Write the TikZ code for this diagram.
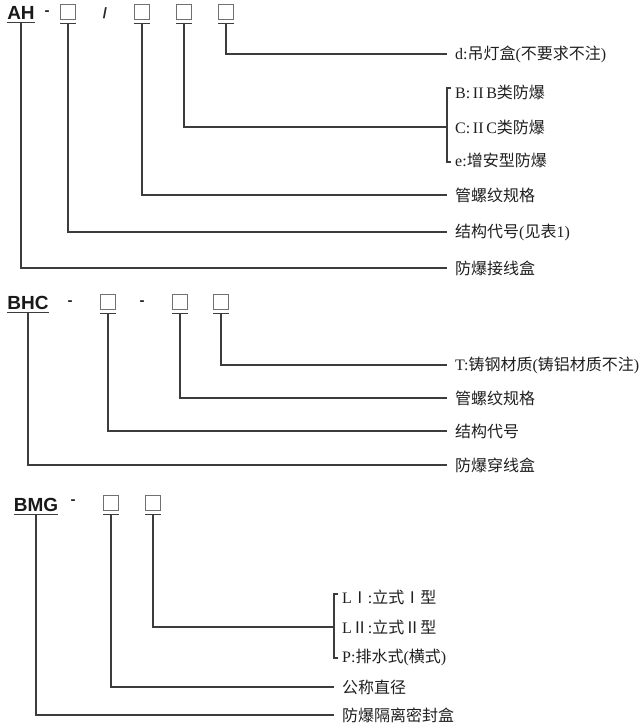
\documentclass[tikz,border=0pt]{standalone}
\usepackage{fontspec}
\setmainfont{Liberation Serif}
\newfontfamily\cjk{Noto Sans CJK SC}
\newfontfamily\hdrfont{Liberation Sans}
\usetikzlibrary{positioning}
\definecolor{leadgray}{HTML}{3C3C3C}
\definecolor{boxgray}{HTML}{707070}

\begin{document}
\begin{tikzpicture}[
    x=1pt, y=-1pt,
    % pixel grid of the drawing, y downwards
    lead/.style={draw=leadgray, line width=1.1pt},
    cell/.style={draw=boxgray, line width=0.6pt, minimum size=15pt, inner sep=0pt},
    code/.style={font=\hdrfont\bfseries\fontsize{19}{19}\selectfont, inner sep=0pt, text=black!90},
    sep/.style={font=\hdrfont\bfseries\fontsize{15}{15}\selectfont, inner sep=0pt, text=black!85},
    item/.style={anchor=west, inner xsep=8pt, inner ysep=0pt, font=\fontsize{16}{18}\selectfont, text=black!88}
]
    \useasboundingbox (0,0) rectangle (643,728);

    % AH
    \node[code] (ah) at (21,13) {AH};
    \draw[lead] ([yshift=-3pt]ah.south west) -- coordinate (ah-u) ([yshift=-3pt]ah.south east);
    \node[sep] (ah-d) at (47,13) {-};
    \node[sep] (ah-s) at (105,13) {/};
    \foreach \n/\x in {a1/68, a2/142, a3/184, a4/226} {
        \node[cell] (\n) at (\x,12) {};
        \draw[lead] ([yshift=-4pt]\n.south west) -- coordinate (\n-u) ([yshift=-4pt]\n.south east);
    }
    \node[item] (ad) at (447,54) {d:{\cjk 吊灯盒}({\cjk 不要求不注})};
    \node[item] (ab) at (447,92) {B:\,II\,B{\cjk 类防爆}};
    \node[item] (ac) at (447,127) {C:\,II\,C{\cjk 类防爆}};
    \node[item] (ae) at (447,160) {e:{\cjk 增安型防爆}};
    \node[item] (ag) at (447,195) {\cjk 管螺纹规格};
    \node[item] (as) at (447,232) {{\cjk 结构代号}({\cjk 见表}1)};
    \node[item] (ax) at (447,268) {\cjk 防爆接线盒};
    \draw[lead] (a4-u) |- (ad.west);
    \draw[lead] (a3-u) |- (ac.west);
    \draw[lead] (a2-u) |- (ag.west);
    \draw[lead] (a1-u) |- (as.west);
    \draw[lead] (ah-u) |- (ax.west);
    \draw[lead] ([xshift=4pt,yshift=4pt]ab.west) -- ([yshift=4pt]ab.west)
        -- ([yshift=-2pt]ae.west) -- ([xshift=4pt,yshift=-2pt]ae.west);

    % BHC
    \node[code] (bhc) at (28,303) {BHC};
    \draw[lead] ([yshift=-3pt]bhc.south west) -- coordinate (bhc-u) ([yshift=-3pt]bhc.south east);
    \node[sep] (bhc-d1) at (70,303) {-};
    \node[sep] (bhc-d2) at (142,303) {-};
    \foreach \n/\x in {b1/108, b2/180, b3/221} {
        \node[cell] (\n) at (\x,302) {};
        \draw[lead] ([yshift=-4pt]\n.south west) -- coordinate (\n-u) ([yshift=-4pt]\n.south east);
    }
    \node[item] (bt) at (447,365) {T:{\cjk 铸钢材质}({\cjk 铸铝材质不注})};
    \node[item] (bg) at (447,398) {\cjk 管螺纹规格};
    \node[item] (bs) at (447,431) {\cjk 结构代号};
    \node[item] (bx) at (447,465) {\cjk 防爆穿线盒};
    \draw[lead] (b3-u) |- (bt.west);
    \draw[lead] (b2-u) |- (bg.west);
    \draw[lead] (b1-u) |- (bs.west);
    \draw[lead] (bhc-u) |- (bx.west);

    % BMG
    \node[code] (bmg) at (36,505) {BMG};
    \draw[lead] ([yshift=-3pt]bmg.south west) -- coordinate (bmg-u) ([yshift=-3pt]bmg.south east);
    \node[sep] (bmg-d) at (73,502) {-};
    \foreach \n/\x in {m1/111, m2/153} {
        \node[cell] (\n) at (\x,503) {};
        \draw[lead] ([yshift=-4pt]\n.south west) -- coordinate (\n-u) ([yshift=-4pt]\n.south east);
    }
    \node[item] (m-l1) at (334,597) {L{\cjk Ⅰ}:{\cjk 立式Ⅰ型}};
    \node[item] (m-l2) at (334,627) {L{\cjk Ⅱ}:{\cjk 立式Ⅱ型}};
    \node[item] (m-p) at (334,657) {P:{\cjk 排水式}({\cjk 横式})};
    \node[item] (m-d) at (334,687) {\cjk 公称直径};
    \node[item] (m-x) at (334,715) {\cjk 防爆隔离密封盒};
    \draw[lead] (m2-u) |- (m-l2.west);
    \draw[lead] (m1-u) |- (m-d.west);
    \draw[lead] (bmg-u) |- (m-x.west);
    \draw[lead] ([xshift=4pt,yshift=3pt]m-l1.west) -- ([yshift=3pt]m-l1.west)
        -- ([yshift=-1pt]m-p.west) -- ([xshift=4pt,yshift=-1pt]m-p.west);
\end{tikzpicture}
\end{document}
